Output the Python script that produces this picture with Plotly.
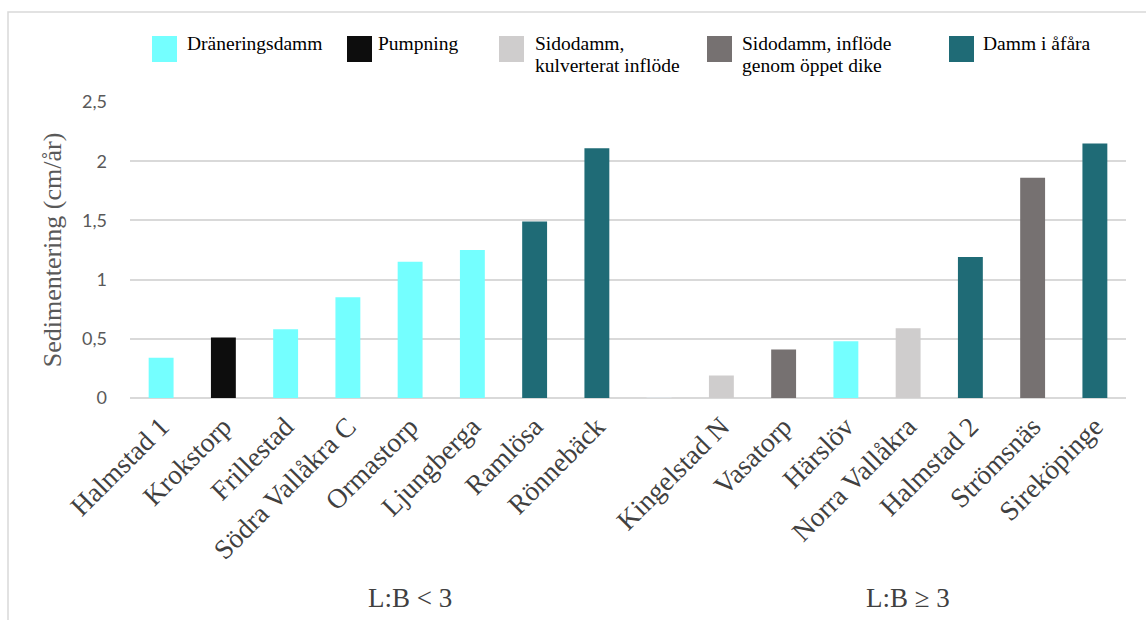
import plotly.graph_objects as go

# Ponds grouped by length:width ratio
sites_lt3 = ["Halmstad 1", "Krokstorp", "Frillestad", "Södra Vallåkra C",
             "Ormastorp", "Ljungberga", "Ramlösa", "Rönnebäck"]
sedim_lt3 = [0.34, 0.51, 0.58, 0.85, 1.15, 1.25, 1.49, 2.11]
type_lt3 = ["drain", "pump", "drain", "drain", "drain", "drain", "river", "river"]

sites_ge3 = ["Kingelstad N", "Vasatorp", "Härslöv", "Norra Vallåkra",
             "Halmstad 2", "Strömsnäs", "Sireköpinge"]
sedim_ge3 = [0.19, 0.41, 0.48, 0.59, 1.19, 1.86, 2.15]
type_ge3 = ["side_culv", "side_ditch", "drain", "side_culv", "river", "side_ditch", "river"]

group_labels = ["L:B < 3", "L:B ≥ 3"]
spacer = " "

# Pond types: key, legend text lines, colour
type_keys = ["drain", "pump", "side_culv", "side_ditch", "river"]
type_names = [["Dräneringsdamm"], ["Pumpning"], ["Sidodamm,", "kulverterat inflöde"],
              ["Sidodamm, inflöde", "genom öppet dike"], ["Damm i åfåra"]]
type_colors = ["#74FFFF", "#0D0D0D", "#CFCDCD", "#767171", "#1F6B76"]

y_ticks = [0, 0.5, 1, 1.5, 2, 2.5]
y_ticktext = ["0", "0,5", "1", "1,5", "2", "2,5"]

W, H = 1146, 620
ML, MR, MT, MB = 130, 20, 102, 222
PW, PH = W - ML - MR, H - MT - MB


def px_x(px):
    return (px - ML) / PW


def px_y(py):
    return (H - MB - py) / PH


SERIF = "Liberation Serif"
SANS = "Lato, Open Sans, sans-serif"

sites = sites_lt3 + [spacer] + sites_ge3
values = sedim_lt3 + [None] + sedim_ge3
types = type_lt3 + [None] + type_ge3

fig = go.Figure()
# spacer slot between the two groups
fig.add_trace(go.Bar(x=[spacer], y=[0], marker_color="rgba(0,0,0,0)",
                     showlegend=False, hoverinfo="skip"))
for key, names, color in zip(type_keys, type_names, type_colors):
    xs = [s for s, t in zip(sites, types) if t == key]
    ys = [v for v, t in zip(values, types) if t == key]
    fig.add_trace(go.Bar(x=xs, y=ys, name=" ".join(names), marker_color=color,
                         marker_line_width=0, showlegend=False))

fig.update_layout(
    width=W, height=H,
    margin=dict(l=ML, r=MR, t=MT, b=MB, autoexpand=False),
    paper_bgcolor="white", plot_bgcolor="white",
    barmode="overlay", bargap=0.6,
    xaxis=dict(type="category", categoryorder="array", categoryarray=sites,
               range=[-0.5, len(sites) - 0.5],
               tickangle=-45, tickfont=dict(family=SERIF, size=27.5, color="#404040"),
               showgrid=False, showline=False, zeroline=False, ticks="",
               ticklabelstandoff=6, automargin=False),
    yaxis=dict(range=[0, 2.5], tickvals=y_ticks, ticktext=y_ticktext,
               tickfont=dict(family=SANS, size=18, color="#595959"),
               showgrid=True, gridcolor="#D9D9D9", gridwidth=1.5,
               zeroline=True, zerolinecolor="#D9D9D9", zerolinewidth=1.5,
               showline=False, ticks="", ticklabelstandoff=22, automargin=False,
               title=dict(text="Sedimentering (cm/år)", standoff=12,
                          font=dict(family=SERIF, size=26, color="#595959"))),
)

shapes = []
annotations = []

# chart frame (left and top edges)
shapes.append(dict(type="path", xref="paper", yref="paper",
                   path=f"M {px_x(8)} {px_y(640)} L {px_x(8)} {px_y(12)} L {px_x(1160)} {px_y(12)}",
                   line=dict(color="#D9D9D9", width=1.5)))

# legend: colour swatch plus label lines
legend_x = [152, 347, 499, 707, 949]
legend_text_x = [185, 376, 533, 740, 981]
for i, (names, color) in enumerate(zip(type_names, type_colors)):
    x0 = legend_x[i]
    shapes.append(dict(type="rect", xref="paper", yref="paper",
                       x0=px_x(x0), x1=px_x(x0 + 25), y0=px_y(36), y1=px_y(62),
                       fillcolor=color, line=dict(width=0)))
    for j, line in enumerate(names):
        annotations.append(dict(text=line, xref="paper", yref="paper",
                                x=px_x(legend_text_x[i]), y=px_y(31 + 22 * j),
                                xanchor="left", yanchor="top", showarrow=False,
                                font=dict(family=SERIF, size=19.5, color="#000000")))

# group labels centred beneath each block of categories
n_left = len(sites_lt3) + 1
group_centers = [(n_left - 1) / 2, n_left + (len(sites_ge3) - 1) / 2]
for label, xc in zip(group_labels, group_centers):
    annotations.append(dict(text=label, xref="x", yref="paper", x=xc, y=px_y(598),
                            xanchor="center", yanchor="middle", showarrow=False,
                            font=dict(family=SERIF, size=27, color="#404040")))

fig.update_layout(shapes=shapes, annotations=annotations)
fig.write_html("out.html")
